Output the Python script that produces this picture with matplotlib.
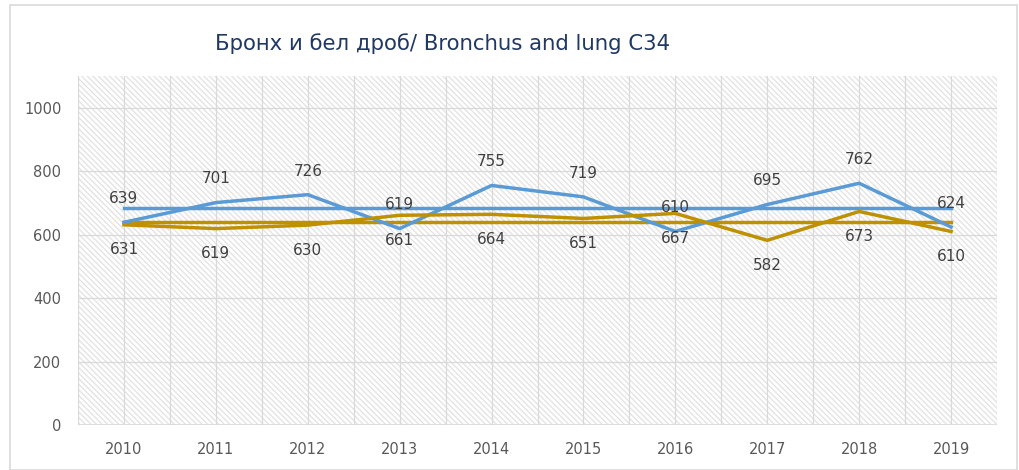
import matplotlib.pyplot as plt
import matplotlib.patches as mpatches
import numpy as np

years = ["2010", "2011", "2012", "2013", "2014", "2015", "2016", "2017", "2018", "2019"]
blue_vals = [639, 701, 726, 619, 755, 719, 610, 695, 762, 624]
gold_vals = [631, 619, 630, 661, 664, 651, 667, 582, 673, 610]
# average lines
blue_avg = 685
gold_avg = 639

yticks = [0, 200, 400, 600, 800, 1000]

BLUE = "#5B9BD5"
GOLD = "#BF9000"
GRID = "#D9D9D9"
TXT = "#595959"

plt.rcParams["hatch.linewidth"] = 0.9

fig = plt.figure(figsize=(10.19, 4.70), dpi=100)
# outer chart border
fig.patches.append(mpatches.Rectangle((10/1019, 0.0), 1007/1019, 1 - 5/470,
	transform=fig.transFigure, fill=False, edgecolor="#D9D9D9", linewidth=1.2))

ax = fig.add_axes([78/1019, 1 - 425/470, 919/1019, 349/470])
ax.set_facecolor("white")

x = np.arange(len(years))

# hatched plot area
ax.add_patch(mpatches.Rectangle((0, 0), 1, 1, transform=ax.transAxes,
	facecolor="white", edgecolor="#E2E2E2", hatch="\\" * 6, linewidth=0, zorder=0))

ax.set_xlim(-0.5, len(years) - 0.5)
ax.set_ylim(0, 1100)

# grid
for gx in np.arange(-0.5, len(years), 0.5):
	ax.axvline(gx, color=GRID, linewidth=0.9, zorder=1)
for gy in yticks:
	ax.axhline(gy, color=GRID, linewidth=0.9, zorder=1)

ax.plot(x, [blue_avg] * len(x), color=BLUE, linewidth=2.5, zorder=3)
ax.plot(x, [gold_avg] * len(x), color=GOLD, linewidth=2.5, zorder=3)
ax.plot(x, blue_vals, color=BLUE, linewidth=2.5, zorder=4)
ax.plot(x, gold_vals, color=GOLD, linewidth=2.5, zorder=4)

for i in range(len(x)):
	ax.annotate(str(blue_vals[i]), (x[i], blue_vals[i]), xytext=(0, 17), textcoords="offset points",
		ha="center", va="center", fontsize=11, color="#404040", zorder=5)
	ax.annotate(str(gold_vals[i]), (x[i], gold_vals[i]), xytext=(0, -18), textcoords="offset points",
		ha="center", va="center", fontsize=11, color="#404040", zorder=5)

ax.set_xticks(x)
ax.set_xticklabels(years)
ax.set_yticks(yticks)
ax.tick_params(axis="both", length=0, colors=TXT, labelsize=10.5)
ax.tick_params(axis="x", pad=12)
ax.tick_params(axis="y", pad=12)
for s in ax.spines.values():
	s.set_visible(False)
ax.axhline(0, color=GRID, linewidth=1.2, zorder=2)

fig.text(0.434, 1 - 44/470, "Бронх и бел дроб/ Bronchus and lung C34", ha="center", va="center",
	fontsize=15.3, color="#1F3864")

fig.savefig("out.png", dpi=100)
